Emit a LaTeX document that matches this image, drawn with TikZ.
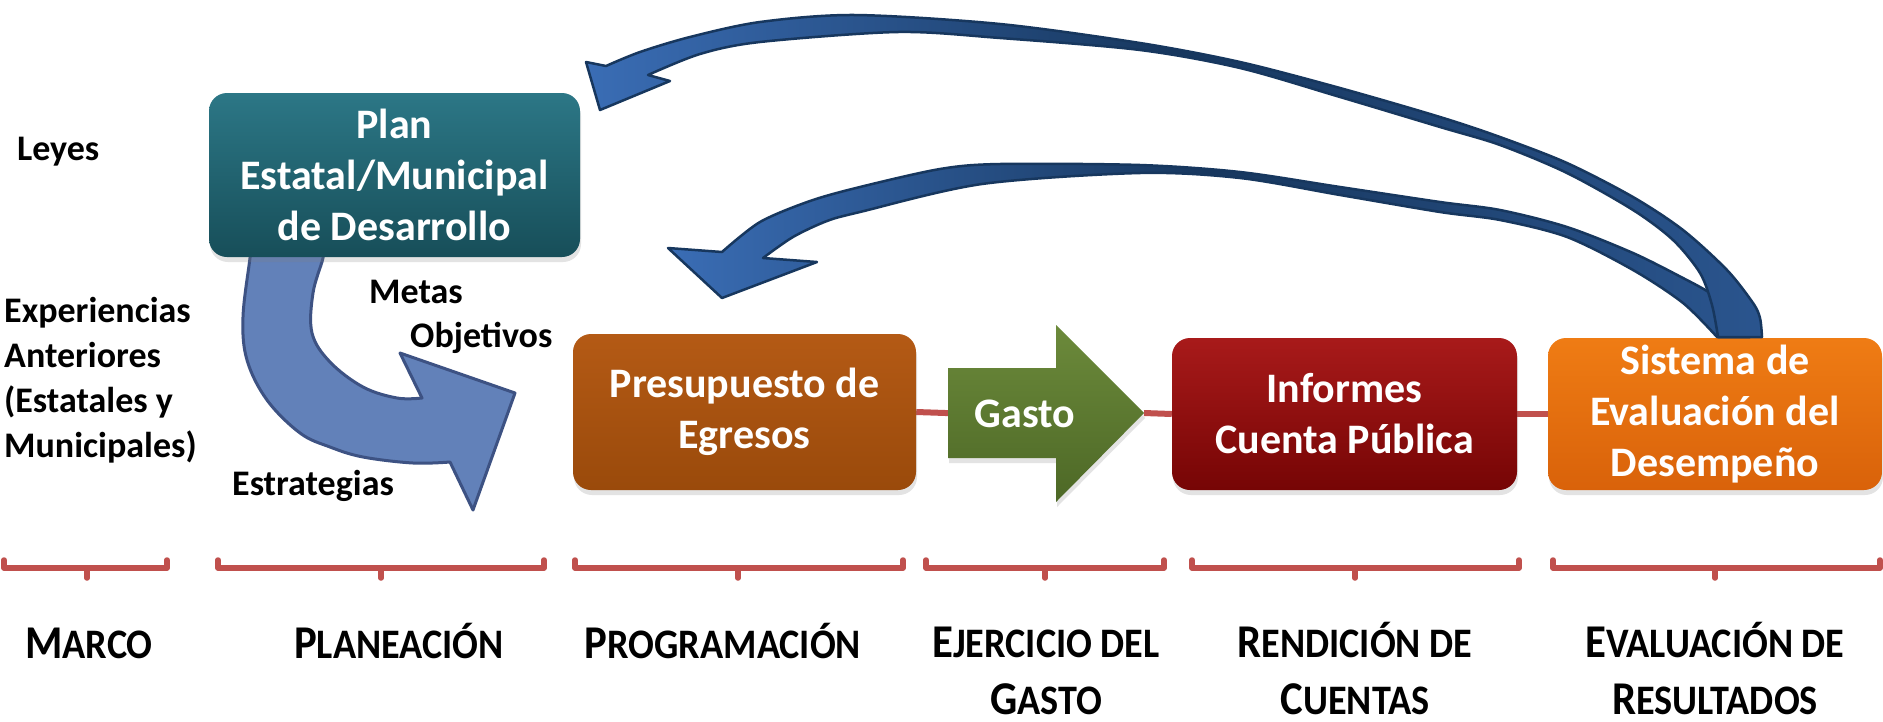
\documentclass[tikz,border=0pt]{standalone}
\usepackage{fontspec}
\setmainfont{Carlito}
\newfontfamily\condfont{Carlito}[FakeStretch=0.91]
\usetikzlibrary{shadows}
\pgfdeclarelayer{bg}
\pgfsetlayers{bg,main}
\definecolor{planT}{HTML}{2C7786}
\definecolor{planB}{HTML}{174E59}
\definecolor{presT}{HTML}{B45A15}
\definecolor{presB}{HTML}{9A4A0B}
\definecolor{infT}{HTML}{A81A1A}
\definecolor{infB}{HTML}{760505}
\definecolor{sisT}{HTML}{EF7C14}
\definecolor{sisB}{HTML}{D9620A}
\definecolor{gasT}{HTML}{6C8A3B}
\definecolor{gasB}{HTML}{4D6826}
\definecolor{connred}{HTML}{C0504D}
\definecolor{navy}{HTML}{17375E}
\definecolor{navyL}{HTML}{3A6DB5}
\definecolor{curvF}{HTML}{6281B9}
\definecolor{curvD}{HTML}{3D5283}
\newcommand\scword[2]{{\fontsize{47}{57}\selectfont #1}{\fontsize{42}{57}\selectfont #2}}
\newcommand\bracketpath[3]{\draw[brk] (#1,560) -- (#1,568) -- (#2,568) -- (#2,560) (#3,568) -- (#3,578);}
\tikzset{
  box/.style={rounded corners=18pt, inner sep=0pt, text=white, align=center,
    font=\bfseries\fontsize{42}{51}\selectfont,
    drop shadow={opacity=0.22, shadow xshift=1pt, shadow yshift=-5pt}},
  txt/.style={inner sep=0pt, text=white, font=\bfseries\fontsize{42}{51}\selectfont},
  side/.style={inner sep=0pt, align=left, anchor=base west, font=\bfseries\fontsize{36}{44.7}\selectfont},
  mid/.style={inner sep=0pt, anchor=base west, font=\bfseries\fontsize{36}{44.7}\selectfont},
  lab/.style={inner sep=0pt, align=center, anchor=base, font=\condfont\bfseries\fontsize{42}{57}\selectfont},
  conn/.style={draw=connred, line width=6pt},
  brk/.style={draw=connred, line width=5.5pt, line join=round, line cap=round},
  bluearrow/.style={draw=navy, line width=2.5pt, line join=round, left color=navyL, right color=navyL!55!navy, middle color=navy},
  curvarrow/.style={fill=curvF, draw=curvD, line width=3pt, line join=round}
}
\begin{document}
\begin{tikzpicture}[x=1pt,y=-1pt]
\useasboundingbox (0,0) rectangle (1883,721);
\begin{pgfonlayer}{bg}
\fill[white] (0,0) rectangle (1883,721);
\end{pgfonlayer}

% curved arrow from the plan
\path[curvarrow] plot[smooth, tension=0.6] coordinates {(252,240) (250,258) (243,317) (247,360) (267,400) (300,433) (330,447) (363,457) (413,463) (450,462)}
  -- (473,510) -- (515,393) -- (400,353) -- plot[smooth, tension=0.6] coordinates {(422,398) (397,398) (363,387) (330,362) (312,333) (313,293) (323,258) (325,240)} -- cycle;

% boxes
\node[box, top color=planT, bottom color=planB, minimum width=371pt, minimum height=164pt] (plan) at (394.5,175) {Plan\\Estatal/Municipal\\de Desarrollo};
\node[box, top color=presT, bottom color=presB, minimum width=343pt, minimum height=156pt] (pres) at (744.5,412) {Presupuesto de\\Egresos};
\node[box, top color=infT, bottom color=infB, minimum width=345pt, minimum height=152pt] (inf) at (1344.5,414) {Informes\\Cuenta Pública};
\node[box, top color=sisT, bottom color=sisB, minimum width=334pt, minimum height=152pt] (sis) at (1715,414) {Sistema de\\Evaluación del\\Desempeño};

% gasto arrow
\path[top color=gasT, bottom color=gasB, drop shadow={opacity=0.22, shadow xshift=1pt, shadow yshift=-5pt}]
  (948,368) -- (1056,368) -- (1056,325) -- (1144,413) -- (1056,502) -- (1056,458) -- (948,458) -- cycle;
\node[txt] (gasto) at (1025,414) {Gasto};
\coordinate (gastotip) at (1144,413);

% connectors
\begin{pgfonlayer}{bg}
\draw[conn] (pres.east) -- (gasto.west);
\draw[conn] (gastotip) -- (inf.west);
\draw[conn] (inf.east) -- (sis.west);
\end{pgfonlayer}

% side texts
\node[side] (leyes) at (17,160) {Leyes};
\node[side] (exper) at (4,457) {Experiencias\\Anteriores\\(Estatales y\\Municipales)};
\node[mid] (metas) at (369,303) {Metas};
\node[mid] (objet) at (410,347) {Objetivos};
\node[mid] (estra) at (232,495) {Estrategias};

% blue return arrows
\path[bluearrow] plot[smooth] coordinates {(1750,337) (1735,313) (1710,293) (1683,278) (1633,253) (1567,227) (1500,210) (1440,202) (1340,187) (1240,172) (1140,165) (1000,164) (940,169) (860,187) (810,201) (760,222) (722,252)}
  -- (668,248) -- (722,298) -- (817,262) -- plot[smooth] coordinates {(763,258) (793,237) (827,221) (860,212) (982,184) (1140,173) (1240,178) (1340,195) (1440,212) (1500,220) (1567,237) (1633,270) (1683,303) (1717,337)} -- cycle;
\path[bluearrow] plot[smooth] coordinates {(1762,337) (1760,318) (1753,303) (1727,270) (1683,230) (1633,197) (1567,163) (1500,137) (1440,117) (1340,88) (1240,62) (1140,43) (1000,24) (855,15) (760,22) (690,37) (640,52) (606,66)}
  -- (586,62) -- (600,110) -- (670,81) -- plot[smooth] coordinates {(648,75) (700,54) (760,42) (898,32) (1000,38) (1140,50) (1240,68) (1340,97) (1440,127) (1500,145) (1567,173) (1633,210) (1673,240) (1700,273) (1712,305) (1718,337)} -- cycle;

% brackets
\bracketpath{4}{167}{87}
\bracketpath{218}{544}{381}
\bracketpath{575}{903}{738}
\bracketpath{926}{1164}{1045}
\bracketpath{1192}{1519}{1355}
\bracketpath{1553}{1880}{1715}

% stage labels
\node[lab] (marco) at (89,658) {\scword{M}{ARCO}};
\node[lab] (plane) at (399,658) {\scword{P}{LANEACIÓN}};
\node[lab] (progr) at (723,658) {\scword{P}{ROGRAMACIÓN}};
\node[lab] (ejer) at (1046,714) {\scword{E}{JERCICIO DEL}\\\scword{G}{ASTO}};
\node[lab] (rend) at (1355,714) {\scword{R}{ENDICIÓN DE}\\\scword{C}{UENTAS}};
\node[lab] (eval) at (1715,714) {\scword{E}{VALUACIÓN DE}\\\scword{R}{ESULTADOS}};
\end{tikzpicture}
\end{document}
